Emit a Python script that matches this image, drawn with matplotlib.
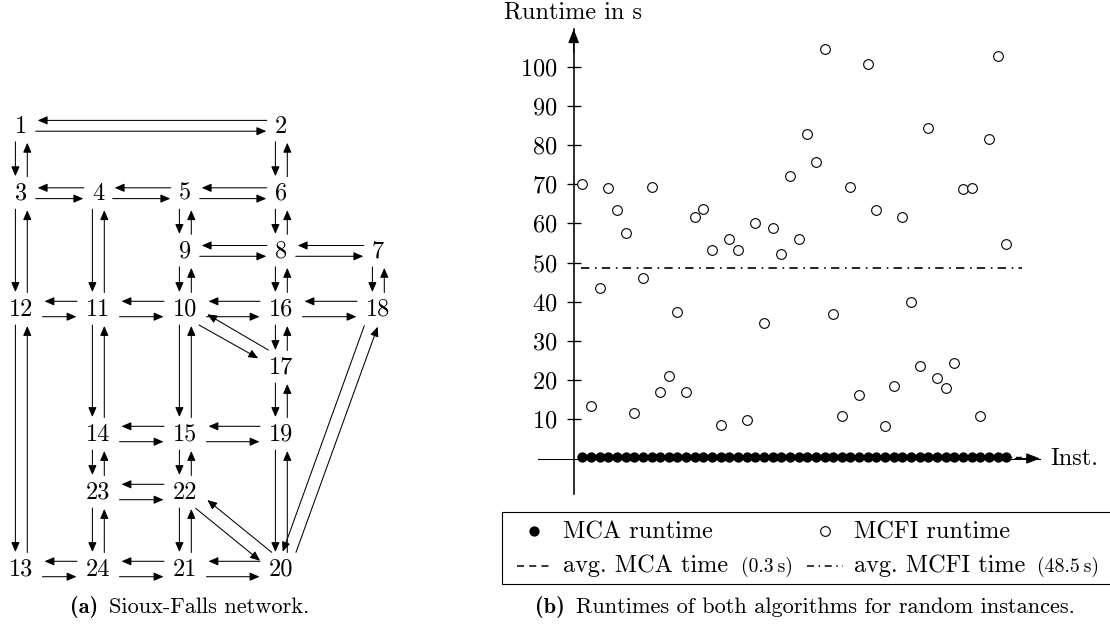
import matplotlib
matplotlib.use('Agg')
import matplotlib.pyplot as plt
from matplotlib.patches import FancyArrowPatch

plt.rcParams['font.family'] = ['cmr10', 'DejaVu Serif']
plt.rcParams['axes.formatter.use_mathtext'] = True

# Runtimes for the 50 random instances (seconds)
instances = list(range(1, 51))
mcfi_runtime = [70.0, 13.5, 43.4, 68.9, 63.5, 57.4, 11.5, 46.0, 69.3, 17.0,
                21.0, 37.3, 17.0, 61.5, 63.6, 53.2, 8.5, 55.9, 53.2, 9.8,
                60.2, 34.5, 58.9, 52.1, 72.1, 55.9, 82.7, 75.6, 104.4, 36.9,
                10.8, 69.3, 16.3, 100.7, 63.5, 8.3, 18.6, 61.6, 39.8, 23.7,
                84.3, 20.5, 18.1, 24.4, 68.7, 69.1, 10.8, 81.5, 102.6, 54.7]
mca_runtime = [0.3, 0.3, 0.3, 0.3, 0.3, 0.3, 0.3, 0.3, 0.3, 0.3,
               0.3, 0.3, 0.3, 0.3, 0.3, 0.3, 0.3, 0.3, 0.3, 0.3,
               0.3, 0.3, 0.3, 0.3, 0.3, 0.3, 0.3, 0.3, 0.3, 0.3,
               0.3, 0.3, 0.3, 0.3, 0.3, 0.3, 0.3, 0.3, 0.3, 0.3,
               0.3, 0.3, 0.3, 0.3, 0.3, 0.3, 0.3, 0.3, 0.3, 0.3]
avg_mca = 0.3
avg_mcfi = 48.5
y_ticks = [10, 20, 30, 40, 50, 60, 70, 80, 90, 100]

# Sioux-Falls network: columns and rows of the node layout
col_x = [21, 98, 185, 281, 378]
row_y = [125.8, 193.2, 250.9, 309, 367, 434, 492, 569]
nodes = {1: (0, 0), 2: (3, 0), 3: (0, 1), 4: (1, 1), 5: (2, 1), 6: (3, 1),
         9: (2, 2), 8: (3, 2), 7: (4, 2), 12: (0, 3), 11: (1, 3), 10: (2, 3),
         16: (3, 3), 18: (4, 3), 17: (3, 4), 14: (1, 5), 15: (2, 5), 19: (3, 5),
         23: (1, 6), 22: (2, 6), 13: (0, 7), 24: (1, 7), 21: (2, 7), 20: (3, 7)}
horizontal = [(1, 2), (3, 4), (4, 5), (5, 6), (9, 8), (8, 7), (12, 11), (11, 10),
              (10, 16), (16, 18), (14, 15), (15, 19), (23, 22), (13, 24), (24, 21), (21, 20)]
vertical = [(1, 3), (2, 6), (3, 12), (4, 11), (5, 9), (6, 8), (9, 10), (8, 16), (7, 18),
            (12, 13), (11, 14), (10, 15), (16, 17), (17, 19), (19, 20), (14, 23),
            (15, 22), (23, 24), (22, 21)]
# the slanted links do not follow the grid, end points read off directly
slanted = [((199, 325), (258.3, 358.3)), ((268.3, 350), (207.3, 314.3)),
           ((195.7, 508.3), (260, 560.7)), ((271.7, 552.3), (207.3, 500)),
           ((364.3, 325.7), (282.7, 551.7)), ((296, 552.3), (377.7, 326.7))]

W, H = 1110, 626
FS = 17.5
CAP = 16.1
SMALL = 14.2
fig = plt.figure(figsize=(W / 100, H / 100), dpi=100)

# pixel-coordinate canvas for the network, captions and legend box
canvas = fig.add_axes([0, 0, 1, 1])
canvas.set_xlim(0, W)
canvas.set_ylim(H, 0)
canvas.axis('off')


def arrow(a, b):
    canvas.add_patch(FancyArrowPatch(a, b, arrowstyle='-|>,head_length=0.58,head_width=0.25',
                                     mutation_scale=10, lw=0.75, color='black',
                                     shrinkA=0, shrinkB=0))


def half_width(n):
    return 21.5 if n >= 10 else 14.7


for n, (c, r) in nodes.items():
    canvas.text(col_x[c], row_y[r] + 0.7, str(n), fontsize=FS, ha='center', va='center')

for u, v in horizontal:
    xu, yu = col_x[nodes[u][0]], row_y[nodes[u][1]]
    xv = col_x[nodes[v][0]]
    dy = 7.7 if u >= 10 or v >= 10 else 5.4
    arrow((xu + half_width(u), yu + dy), (xv - half_width(v), yu + dy))
    arrow((xv - half_width(v) + 0.5, yu - dy), (xu + half_width(u) + 2, yu - dy))

for u, v in vertical:
    xu, yu = col_x[nodes[u][0]], row_y[nodes[u][1]]
    yv = row_y[nodes[v][1]]
    arrow((xu - 5.6, yu + 16), (xu - 5.6, yv - 17))
    arrow((xu + 6.3, yv - 16.5), (xu + 6.3, yu + 17))

for a, b in slanted:
    arrow(a, b)

canvas.text(70, 607, '(a)', fontsize=CAP, family='cmb10', va='center')
canvas.text(109, 607, 'Sioux-Falls network.', fontsize=CAP, va='center')
canvas.text(535, 607, '(b)', fontsize=CAP, family='cmb10', va='center')
canvas.text(576, 607, 'Runtimes of both algorithms for random instances.', fontsize=CAP, va='center')

# legend box runs off the right edge of the page
canvas.plot([1115, 502.3, 502.3, 1115], [512.3, 512.3, 584, 584], color='black', lw=0.8, clip_on=False)
canvas.plot([534.3], [530.7], 'o', ms=7.4, mew=0, color='black')
canvas.plot([825.3], [530.7], 'o', ms=7, mfc='white', mec='black', mew=0.8)
canvas.plot([516.7, 552.3], [566, 566], color='black', lw=1.1, linestyle=(0, (4.6, 3.4)))
canvas.plot([807.3, 843.3], [566, 566], color='black', lw=1.1, linestyle=(0, (4.6, 3, 1, 3)))
canvas.text(562.7, 532, 'MCA runtime', fontsize=FS, va='center')
canvas.text(854, 532, 'MCFI runtime', fontsize=FS, va='center')
canvas.text(562.7, 566, 'avg. MCA time', fontsize=FS, va='center')
canvas.text(740.7, 567, '(0.3\u2009s)', fontsize=SMALL, va='center')
canvas.text(854, 566, 'avg. MCFI time', fontsize=FS, va='center')
canvas.text(1037.3, 567, '(48.5\u2009s)', fontsize=SMALL, va='center')

# runtime plot, axes placed so that the axis cross sits at pixel (573.65, 458.5)
px_left, px_right, px_top, px_bottom = 538, 1040, 29, 494
ax = fig.add_axes([px_left / W, 1 - px_bottom / H, (px_right - px_left) / W, (px_bottom - px_top) / H])
ax.patch.set_alpha(0)
ax.set_xlim((px_left - 573.65) / 8.65, (px_right - 573.65) / 8.65)
ax.set_ylim((458.5 - px_bottom) / 3.92, (458.5 - px_top) / 3.92)

ax.spines['top'].set_visible(False)
ax.spines['right'].set_visible(False)
ax.spines['left'].set_position(('data', 0))
ax.spines['bottom'].set_position(('data', 0))
ax.spines['left'].set_linewidth(1.15)
ax.spines['bottom'].set_linewidth(0.75)
ax.set_xticks([])
ax.set_yticks(y_ticks)
ax.tick_params(axis='y', direction='inout', length=10, width=0.95, pad=6.5, labelsize=FS)

ax.annotate('', xy=(0, 1), xytext=(0, 0.95), xycoords=('data', 'axes fraction'),
            arrowprops=dict(arrowstyle='-|>,head_length=0.85,head_width=0.33', mutation_scale=10,
                            lw=0.9, color='black', shrinkA=0, shrinkB=0))
ax.annotate('', xy=(1, 0), xytext=(0.95, 0), xycoords=('axes fraction', 'data'),
            arrowprops=dict(arrowstyle='-|>,head_length=0.85,head_width=0.33', mutation_scale=10,
                            lw=0.75, color='black', shrinkA=0, shrinkB=0))

ax.plot([0.8, 51.8], [avg_mca, avg_mca], color='black', lw=1, linestyle=(0, (4.2, 2.6)), zorder=2)
ax.plot([0.8, 51.8], [avg_mcfi, avg_mcfi], color='black', lw=1.2,
        linestyle=(0, (5, 3.4, 1, 3.1)), zorder=2)
ax.plot(instances, mca_runtime, 'o', ms=7.4, mew=0, color='black', zorder=3, clip_on=False)
ax.plot(instances, mcfi_runtime, 'o', ms=7, mfc='white', mec='black', mew=0.8, zorder=3)

canvas.text(504, 12, 'Runtime in s', fontsize=FS, va='center')
canvas.text(1050.5, 459, 'Inst.', fontsize=FS, va='center')

fig.savefig('out.png', dpi=100)
